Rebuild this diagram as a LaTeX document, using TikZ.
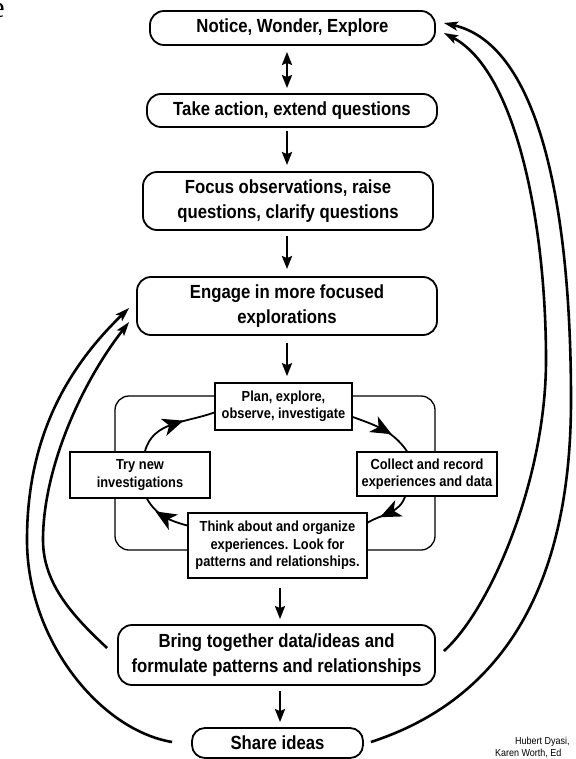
\documentclass[tikz,border=0pt]{standalone}
\usepackage{fontspec}
\setmainfont{Liberation Sans}[FakeStretch=0.88]
\newfontfamily\serife{Liberation Serif}
\usetikzlibrary{arrows.meta,calc,decorations.markings}
\begin{document}
\begin{tikzpicture}[x=1pt,y=1pt,
  mainbox/.style={draw, line width=1.8pt, rounded corners=14pt, inner sep=0pt, align=center,
    font=\fontsize{19}{24.5}\selectfont\bfseries, fill=white},
  cyclebox/.style={draw, line width=1.6pt, inner sep=0pt, align=center,
    font=\fontsize{14.6}{17.5}\selectfont\bfseries, fill=white},
  framebox/.style={draw, line width=1.3pt, rounded corners=14pt, inner sep=0pt},
  flow/.style={line width=2.5pt, -{Stealth[length=13pt,width=10pt,inset=2pt]}},
  bothflow/.style={line width=2.5pt, {Stealth[length=13pt,width=10pt,inset=2pt]}-{Stealth[length=13pt,width=10pt,inset=2pt]}},
  loopback/.style={line width=2.6pt, -{Stealth[length=14pt,width=9pt,inset=3pt]}},
  cyc/.style={line width=1.8pt, postaction={decorate},
    decoration={markings, mark=at position 0.5 with {\fill (-11pt,-9pt) -- (10pt,0pt) -- (-11pt,9pt) -- (-5pt,0pt) -- cycle;}}},
  credit/.style={font=\fontsize{10.2}{12}\selectfont, inner sep=0pt, anchor=west}
]
\useasboundingbox (0,0) rectangle (575,-759);

% fragment at top-left
\node[font=\serife\fontsize{30}{30}\selectfont, anchor=base east, inner sep=0pt] (frag) at (5,-18) {e};

% inner frame
\node[framebox, minimum width=320pt, minimum height=154pt] (frame) at (275,-473) {};

% main boxes
\node[mainbox, minimum width=285pt, minimum height=34pt] (n1) at (292.5,-28) {Notice, Wonder, Explore};
\node[mainbox, minimum width=290pt, minimum height=33pt] (n2) at (292,-110.5) {Take action, extend questions};
\node[mainbox, minimum width=290pt, minimum height=58pt] (n3) at (288,-201) {Focus observations, raise\\questions, clarify questions};
\node[mainbox, minimum width=300pt, minimum height=58pt] (n4) at (287,-306) {Engage in more focused\\explorations};

% cycle boxes
\node[cyclebox, minimum width=137pt, minimum height=47pt] (plan) at (283.5,-406.5) {Plan, explore,\\observe, investigate};
\node[cyclebox, minimum width=140pt, minimum height=46pt] (tryn) at (140,-475) {Try new\\investigations};
\node[cyclebox, minimum width=140pt, minimum height=44pt] (collect) at (427,-474) {Collect and record\\experiences and data};
\node[cyclebox, minimum width=179pt, minimum height=65pt] (think) at (277.5,-545.5) {Think about and organize\\experiences. Look for\\patterns and relationships.};

% lower boxes
\node[mainbox, minimum width=317pt, minimum height=60pt] (bring) at (276.5,-655) {Bring together data/ideas and\\formulate patterns and relationships};
\node[mainbox, minimum width=171pt, minimum height=30pt, rounded corners=13pt] (share) at (277.5,-743) {Share ideas};

% credits
\node[credit] (cred1) at (515,-742) {Hubert Dyasi,};
\node[credit] (cred2) at (495,-753.5) {Karen Worth, Ed};

% straight arrows
\coordinate (axA) at (287,0);
\coordinate (axB) at (280,0);
\draw[bothflow, shorten <=6pt, shorten >=5pt] (n1.south -| axA) -- (n2.north -| axA);
\draw[flow, shorten <=3pt, shorten >=6pt] (n2.south -| axA) -- (n3.north -| axA);
\draw[flow, shorten <=5pt, shorten >=7pt] (n3.south -| axA) -- (n4.north -| axA);
\draw[flow, shorten <=7pt, shorten >=6pt] (n4.south -| axA) -- (plan.north -| axA);
\draw[flow, shorten <=9pt, shorten >=5pt] (think.south -| axB) -- (bring.north -| axB);
\draw[flow, shorten <=5pt, shorten >=5pt] (bring.south -| axB) -- (share.north -| axB);

% cycle arrows
\draw[cyc] ($(plan.east)+(0,-10.5)$) to[out=-20,in=125] ($(collect.north)+(-20,0)$);
\draw[cyc] ($(collect.south)+(-22,0)$) to[out=-110,in=30] ($(think.east)+(0,23)$);
\draw[cyc] ($(think.west)+(0,20)$) to[out=165,in=-60] ($(tryn.south)+(7,0)$);
\draw[cyc] ($(tryn.north)+(5,0)$) to[out=75,in=200] ($(plan.west)+(0,-6)$);

% long feedback arrows
\draw[loopback] ($(share.east)+(7,1)$) .. controls (500,-700) and (571,-590) .. (571,-400)
  .. controls (571,-210) and (540,-45) .. ($(n1.east)+(8,5)$);
\draw[loopback] ($(bring.east)+(8,4)$) .. controls (490,-610) and (546,-480) .. (546,-360)
  .. controls (546,-220) and (515,-70) .. ($(n1.east)+(8,-5)$);
\draw[loopback] ($(share.west)+(-19,1)$) .. controls (100,-730) and (27,-640) .. (27,-540)
  .. controls (27,-440) and (65,-370) .. ($(n4.west)+(-7,-2)$);
\draw[loopback] ($(bring.west)+(-10,7)$) .. controls (75,-618) and (43,-585) .. (43,-540)
  .. controls (43,-470) and (80,-385) .. ($(n4.west)+(-7,-16)$);
\end{tikzpicture}
\end{document}
